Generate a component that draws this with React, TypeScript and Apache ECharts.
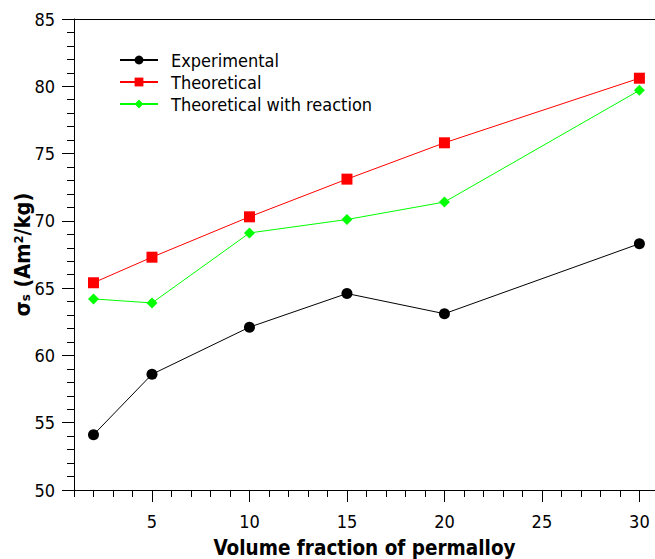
import React, { useEffect, useRef } from "react";
import * as echarts from "echarts";

const xValues = [2, 5, 10, 15, 20, 30];
const experimental = [54.1, 58.6, 62.1, 64.6, 63.1, 68.3];
const theoretical = [65.4, 67.3, 70.3, 73.1, 75.8, 80.6];
const theoreticalReaction = [64.2, 63.9, 69.1, 70.1, 71.4, 79.7];
const xTickLabels = [5, 10, 15, 20, 25, 30];
const seriesNames = ["Experimental", "Theoretical", "Theoretical with reaction"];

const FONT = "'DejaVu Sans Condensed', 'DejaVu Sans', sans-serif";
const X_MIN = 1;
const X_MAX = 30.8;

export default function App() {
  const ref = useRef<HTMLDivElement>(null);
  useEffect(() => {
    if (!ref.current) return;
    const chart = echarts.init(ref.current, null, { renderer: "svg" });
    const pair = (ys: number[]) => xValues.map((x, i) => [x, ys[i]]);
    chart.setOption({
      animation: false,
      backgroundColor: "#fff",
      grid: {
        left: 74,
        right: 0,
        top: 19,
        bottom: 69,
        show: false,
        containLabel: false,
        outerBoundsMode: "none",
      },
      legend: {
        orient: "vertical",
        left: 119,
        top: 51,
        padding: 0,
        itemWidth: 38,
        itemHeight: 11,
        itemGap: 4,
        textStyle: {
          fontFamily: FONT,
          fontSize: 18,
          lineHeight: 18,
          color: "#000",
          padding: [0, 0, 0, 8],
        },
        data: seriesNames,
      },
      xAxis: [
        {
          type: "value",
          min: X_MIN,
          max: X_MAX,
          name: "Volume fraction of permalloy",
          nameLocation: "middle",
          nameGap: 48,
          nameMoveOverlap: false,
          nameTextStyle: {
            fontFamily: FONT,
            fontSize: 20.5,
            lineHeight: 20,
            fontWeight: "bold",
            color: "#000",
          },
          axisLine: { show: true, lineStyle: { color: "#000", width: 1 } },
          axisTick: { show: true, customValues: xTickLabels, length: 12, lineStyle: { color: "#000" } },
          axisLabel: {
            customValues: xTickLabels,
            margin: 22,
            fontFamily: FONT,
            fontSize: 18,
            color: "#000",
          },
          splitLine: { show: false },
        },
        {
          type: "value",
          min: X_MIN,
          max: X_MAX,
          interval: 1,
          position: "bottom",
          axisLine: { show: false },
          axisTick: { show: true, length: 7, lineStyle: { color: "#000" } },
          axisLabel: { show: false },
          splitLine: { show: false },
        },
        {
          type: "value",
          min: X_MIN,
          max: X_MAX,
          position: "top",
          axisLine: { show: true, lineStyle: { color: "#000", width: 1 } },
          axisTick: { show: false },
          axisLabel: { show: false },
          splitLine: { show: false },
        },
      ],
      yAxis: {
        type: "value",
        min: 50,
        max: 85,
        interval: 5,
        name: "{a|σ}{sub|s}{a| (Am}{sup|2}{a|/kg)}",
        nameLocation: "middle",
        nameGap: 41,
        nameMoveOverlap: false,
        nameRotate: 90,
        nameTextStyle: {
          fontFamily: FONT,
          fontSize: 21.5,
          fontWeight: "bold",
          color: "#000",
          rich: {
            a: { fontFamily: FONT, fontSize: 21.5, fontWeight: "bold", color: "#000" },
            sub: { fontFamily: FONT, fontSize: 13, fontWeight: "bold", color: "#000", padding: [7, 0, 0, 0] },
            sup: { fontFamily: FONT, fontSize: 13, fontWeight: "bold", color: "#000", padding: [0, 0, 8, 0] },
          },
        },
        axisLine: { show: true, lineStyle: { color: "#000", width: 1 } },
        axisTick: { show: true, length: 12, lineStyle: { color: "#000" } },
        minorTick: { show: true, splitNumber: 5, length: 7, lineStyle: { color: "#000" } },
        axisLabel: { margin: 19, fontFamily: FONT, fontSize: 18, color: "#000" },
        splitLine: { show: false },
      },
      series: [
        {
          name: seriesNames[0],
          type: "line",
          data: pair(experimental),
          symbol: "circle",
          symbolSize: 11,
          itemStyle: { color: "#000" },
          lineStyle: { color: "#000", width: 1 },
        },
        {
          name: seriesNames[1],
          type: "line",
          data: pair(theoretical),
          symbol: "rect",
          symbolSize: 11,
          itemStyle: { color: "#ff0000" },
          lineStyle: { color: "#ff0000", width: 1 },
        },
        {
          name: seriesNames[2],
          type: "line",
          data: pair(theoreticalReaction),
          symbol: "diamond",
          symbolSize: 11,
          itemStyle: { color: "#00ff00" },
          lineStyle: { color: "#00ff00", width: 1 },
        },
      ],
    });
    return () => chart.dispose();
  }, []);
  return (
    <div
      ref={ref}
      style={{ position: "fixed", left: 0, top: 0, width: 655, height: 559, background: "#fff" }}
    />
  );
}
